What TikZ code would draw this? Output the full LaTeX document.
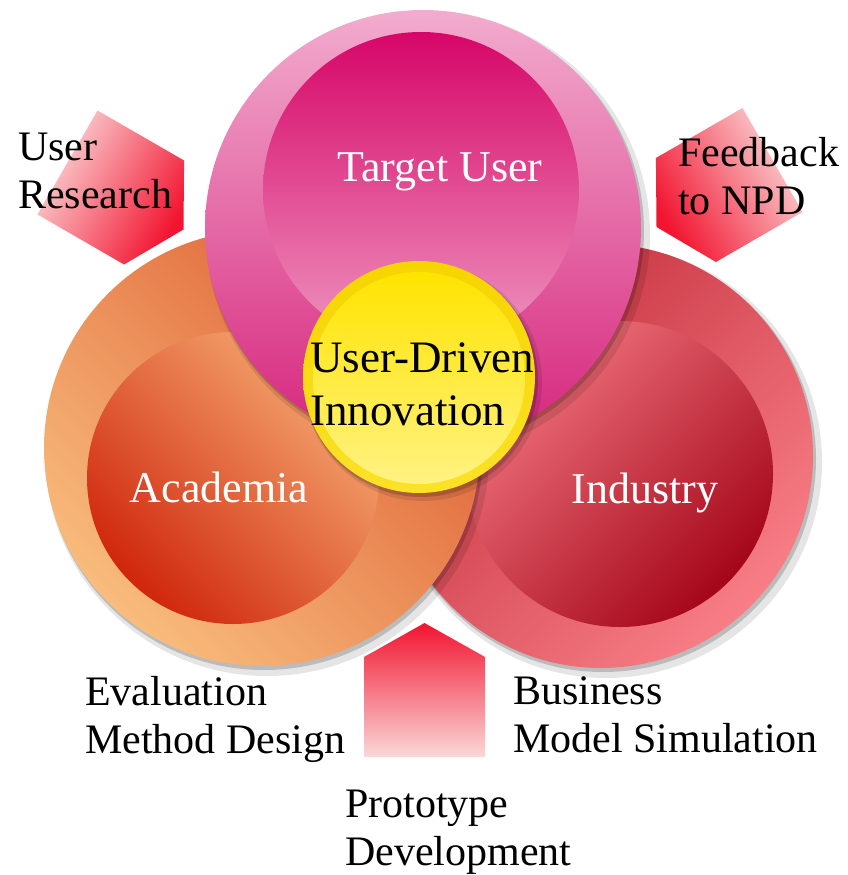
\documentclass[tikz,border=0pt]{standalone}
\usepackage{fontspec}
\setmainfont{Liberation Serif}
\definecolor{tuOutTop}{RGB}{242,172,206}
\definecolor{tuOutBot}{RGB}{214,36,124}
\definecolor{tuInTop}{RGB}{214,6,104}
\definecolor{tuInBot}{RGB}{238,150,192}
\definecolor{acOutTop}{RGB}{222,94,52}
\definecolor{acOutBot}{RGB}{248,188,124}
\definecolor{acInTop}{RGB}{246,172,116}
\definecolor{acInBot}{RGB}{208,38,12}
\definecolor{inOutTop}{RGB}{194,44,58}
\definecolor{inOutBot}{RGB}{248,126,134}
\definecolor{inInTop}{RGB}{242,118,128}
\definecolor{inInBot}{RGB}{164,6,24}
\definecolor{yeOutTop}{RGB}{246,212,0}
\definecolor{yeOutBot}{RGB}{250,226,40}
\definecolor{yeInTop}{RGB}{255,228,0}
\definecolor{yeInBot}{RGB}{255,242,130}
\definecolor{arLight}{RGB}{250,216,216}
\definecolor{arRed}{RGB}{242,20,48}
\tikzset{
  disc/.style={circle, inner sep=0pt, draw=none},
  lbl/.style={inner sep=0pt, align=left, anchor=north west, text=black,
    font=\fontsize{42}{48}\selectfont},
  clbl/.style={inner sep=0pt, anchor=base, text=white,
    font=\fontsize{44}{50}\selectfont},
  shadowA/.style={fill=black, opacity=0.10},
  shadowB/.style={fill=black, opacity=0.18},
}
\begin{document}
\begin{tikzpicture}[x=1pt,y=-1pt]
\useasboundingbox (0,0) rectangle (847,875);
\fill[white] (0,0) rectangle (847,875);

% arrows (pentagons)
\shade[top color=arLight, bottom color=arRed, shading angle=60]
  (97.5,110.5) -- (184.1,160.5) -- (183.5,229.5) -- (124.1,264.5) -- (37.5,214.5) -- cycle;
\shade[top color=arLight, bottom color=arRed, shading angle=-60]
  (742.5,108) -- (655.9,158) -- (656.5,227) -- (715.9,262) -- (802.5,212) -- cycle;
\shade[top color=arRed, bottom color=arLight]
  (364,757) -- (364,657) -- (424.5,623) -- (485,657) -- (485,757) -- cycle;

% Industry circle
\fill[shadowA] (606,462) circle[radius=216pt];
\fill[shadowB] (603,459) circle[radius=213pt];
\node[disc, minimum size=424pt, top color=inOutTop, bottom color=inOutBot, shading angle=45] (indO) at (601,456) {};
\node[disc, minimum size=306pt, top color=inInTop, bottom color=inInBot, shading angle=45] (indI) at (620,474) {};

% Academia circle
\fill[shadowA] (267,454) circle[radius=222pt];
\fill[shadowB] (264,451) circle[radius=219pt];
\node[disc, minimum size=436pt, top color=acOutTop, bottom color=acOutBot, shading angle=-45] (acaO) at (262,448) {};
\node[disc, minimum size=292pt, top color=acInTop, bottom color=acInBot, shading angle=-45] (acaI) at (233,478) {};

% Target User circle
\fill[shadowA] (428,234) circle[radius=222pt];
\fill[shadowB] (425,231) circle[radius=219pt];
\node[disc, minimum size=436pt, top color=tuOutTop, bottom color=tuOutBot] (tuO) at (423,228) {};
\node[disc, minimum size=316pt, top color=tuInTop, bottom color=tuInBot] (tuI) at (421,190) {};

% centre circle
\fill[shadowA] (423,382) circle[radius=119pt];
\fill[shadowB] (421,380) circle[radius=117pt];
\node[disc, minimum size=232pt, top color=yeOutTop, bottom color=yeOutBot] (udiO) at (419,377) {};
\node[disc, minimum size=212pt, top color=yeInTop, bottom color=yeInBot] (udiI) at (419,378) {};

% circle labels
\node[clbl] (tuL) at (440,181) {Target User};
\node[clbl] (acaL) at (219,502) {Academia};
\node[clbl] (indL) at (645,503) {Industry};
\node[inner sep=0pt, align=left, anchor=north west, text=black,
  font=\fontsize{45}{53}\selectfont] (udiL) at (310,342) {User-Driven\\Innovation};

% outer labels
\node[lbl] (ur) at (18,133) {User\\Research};
\node[lbl] (fb) at (678,137) {Feedback\\to NPD};
\node[lbl] (ev) at (85,676) {Evaluation\\Method Design};
\node[lbl] (bm) at (513,676) {Business\\Model Simulation};
\node[lbl] (pd) at (345,790) {Prototype\\Development};
\end{tikzpicture}
\end{document}
